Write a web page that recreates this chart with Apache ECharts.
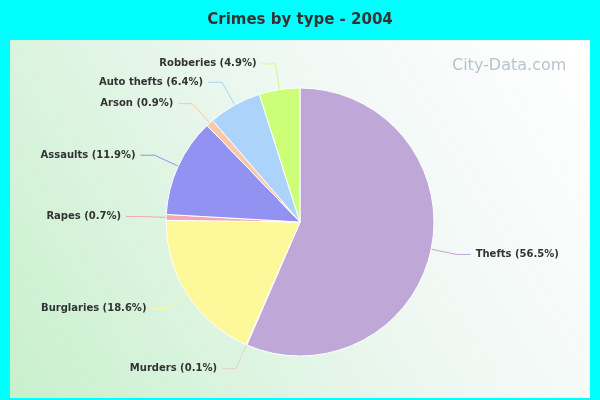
<!DOCTYPE html><html><head><meta charset="utf-8">
<script src="https://cdn.jsdelivr.net/npm/echarts@6/dist/echarts.min.js"></script>
<style>body{margin:0;background:#00ffff}#c{width:600px;height:400px}</style></head><body><div id="c"></div>
<script>
const categories=["Thefts","Murders","Burglaries","Rapes","Assaults","Arson","Auto thefts","Robberies"];
const values=[56.5,0.1,18.6,0.7,11.9,0.9,6.4,4.9];
const colors=["#bfa8d8","#e8d0c0","#fdf99a","#f4a8b0","#9292f2","#f9c8a8","#acd4fb","#ccff77"];
const chart=echarts.init(document.getElementById('c'));
chart.setOption({
 backgroundColor:'#00ffff',
 title:{text:'Crimes by type - 2004',left:'center',top:8,textStyle:{fontFamily:'DejaVu Sans',fontSize:15,fontWeight:'bold',color:'#333'}},
 graphic:[{type:'rect',shape:{x:10,y:40,width:580,height:358},style:{fill:new echarts.graphic.LinearGradient(0,1,1,0,[{offset:0,color:'#c8f0cc'},{offset:0.6,color:'#f0f8f4'},{offset:1,color:'#ffffff'}])},z:-10},
 {type:'text',left:452,top:58,style:{text:'City-Data.com',font:'16px DejaVu Sans',fill:'#b8c4cc'},z:-5}],
 series:[{type:'pie',center:[300,222],radius:134,startAngle:90,clockwise:true,
  data:categories.map((n,i)=>({name:n,value:values[i],itemStyle:{color:colors[i]}})),
  itemStyle:{borderColor:'#fff',borderWidth:1},
  label:{formatter:p=>p.name+' ('+p.value+'%)',fontFamily:'DejaVu Sans',fontSize:10,fontWeight:'bold',color:'#333'},
  labelLine:{length:26,length2:14,lineStyle:{width:1}},
  emphasis:{disabled:true},animation:false}]
});
</script></body></html>
